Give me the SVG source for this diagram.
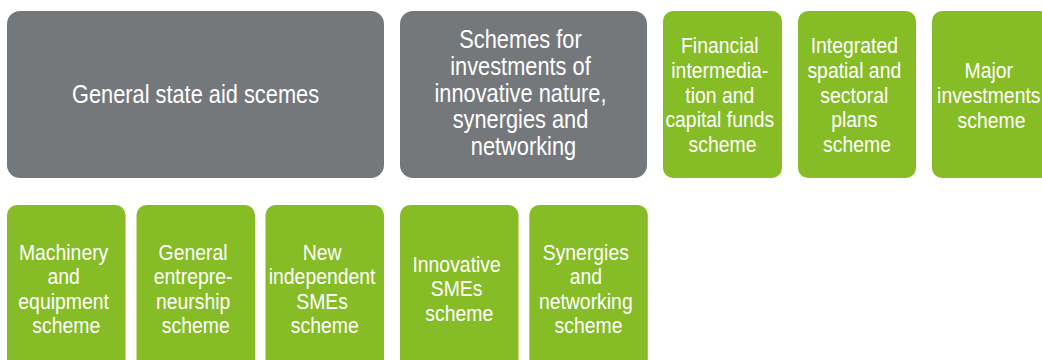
<svg xmlns="http://www.w3.org/2000/svg" width="1042" height="360" viewBox="0 0 1042 360">
  <style>
    .grey { fill: #75787b; }
    .green { fill: #86bc25; }
    .lbl { font-family: "Liberation Sans", Arial, sans-serif; fill: #ffffff; text-anchor: middle; }
    .big { font-size: 21.8px; }
    .small { font-size: 19.4px; }
  </style>
  <rect width="1042" height="360" fill="#ffffff"/>

  <!-- top row: scheme groups and stand-alone schemes -->
  <g id="general-state-aid">
    <rect class="grey" x="7" y="11" width="377" height="167" rx="13"/>
    <text class="lbl big" transform="matrix(1 0 0 1.15 195.5 102.5)">General state aid scemes</text>
  </g>
  <g id="innovative-investments">
    <rect class="grey" x="400" y="11" width="247" height="167" rx="13"/>
    <text class="lbl big" transform="matrix(1 0 0 1.15 523.5 48.3)">
      <tspan x="0" y="0">Schemes for</tspan>
      <tspan x="0" y="23.2">investments of</tspan>
      <tspan x="0" y="46.4">innovative nature,</tspan>
      <tspan x="0" y="69.6">synergies and</tspan>
      <tspan x="0" y="92.8">networking</tspan>
    </text>
  </g>
  <g id="financial-intermediation">
    <rect class="green" x="663" y="11" width="119" height="167" rx="10"/>
    <text class="lbl small" transform="matrix(1 0 0 1.15 722.5 53.3)">
      <tspan x="0" y="0">Financial</tspan>
      <tspan x="0" y="21.4">intermedia-</tspan>
      <tspan x="0" y="42.8">tion and</tspan>
      <tspan x="0" y="64.2">capital funds</tspan>
      <tspan x="0" y="85.6">scheme</tspan>
    </text>
  </g>
  <g id="integrated-plans">
    <rect class="green" x="798" y="11" width="118" height="167" rx="10"/>
    <text class="lbl small" transform="matrix(1 0 0 1.15 857 53.3)">
      <tspan x="0" y="0">Integrated</tspan>
      <tspan x="0" y="21.4">spatial and</tspan>
      <tspan x="0" y="42.8">sectoral</tspan>
      <tspan x="0" y="64.2">plans</tspan>
      <tspan x="0" y="85.6">scheme</tspan>
    </text>
  </g>
  <g id="major-investments">
    <rect class="green" x="932" y="11" width="118" height="167" rx="10"/>
    <text class="lbl small" transform="matrix(1 0 0 1.15 991.5 78.3)">
      <tspan x="0" y="0">Major</tspan>
      <tspan x="0" y="21.4">investments</tspan>
      <tspan x="0" y="42.8">scheme</tspan>
    </text>
  </g>

  <!-- bottom row: individual schemes -->
  <g id="machinery-equipment">
    <rect class="green" x="7" y="205" width="118.5" height="167" rx="10"/>
    <text class="lbl small" transform="matrix(1 0 0 1.15 66.3 260)">
      <tspan x="0" y="0">Machinery</tspan>
      <tspan x="0" y="21.3">and</tspan>
      <tspan x="0" y="42.6">equipment</tspan>
      <tspan x="0" y="63.9">scheme</tspan>
    </text>
  </g>
  <g id="general-entrepreneurship">
    <rect class="green" x="136.5" y="205" width="118.5" height="167" rx="10"/>
    <text class="lbl small" transform="matrix(1 0 0 1.15 195.8 260)">
      <tspan x="0" y="0">General</tspan>
      <tspan x="0" y="21.3">entrepre-</tspan>
      <tspan x="0" y="42.6">neurship</tspan>
      <tspan x="0" y="63.9">scheme</tspan>
    </text>
  </g>
  <g id="new-independent-smes">
    <rect class="green" x="265.5" y="205" width="118.5" height="167" rx="10"/>
    <text class="lbl small" transform="matrix(1 0 0 1.15 324.8 260)">
      <tspan x="0" y="0">New</tspan>
      <tspan x="0" y="21.3">independent</tspan>
      <tspan x="0" y="42.6">SMEs</tspan>
      <tspan x="0" y="63.9">scheme</tspan>
    </text>
  </g>
  <g id="innovative-smes">
    <rect class="green" x="400" y="205" width="118.5" height="167" rx="10"/>
    <text class="lbl small" transform="matrix(1 0 0 1.15 459.3 271.7)">
      <tspan x="0" y="0">Innovative</tspan>
      <tspan x="0" y="21.3">SMEs</tspan>
      <tspan x="0" y="42.6">scheme</tspan>
    </text>
  </g>
  <g id="synergies-networking">
    <rect class="green" x="529.3" y="205" width="118.5" height="167" rx="10"/>
    <text class="lbl small" transform="matrix(1 0 0 1.15 588.5 260)">
      <tspan x="0" y="0">Synergies</tspan>
      <tspan x="0" y="21.3">and</tspan>
      <tspan x="0" y="42.6">networking</tspan>
      <tspan x="0" y="63.9">scheme</tspan>
    </text>
  </g>

  <!-- no connectors are drawn between the scheme boxes -->
  <g id="connectors"/>
</svg>
